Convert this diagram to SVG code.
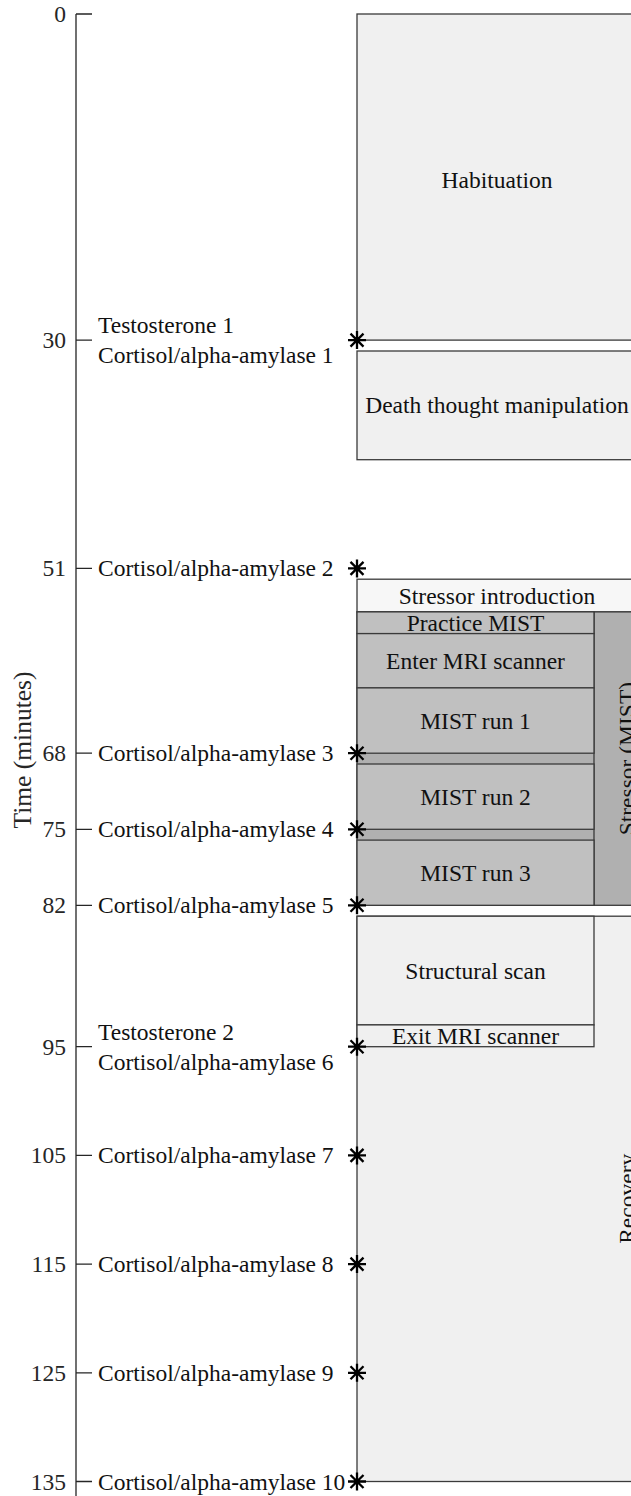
<svg xmlns="http://www.w3.org/2000/svg" width="631" height="1496" viewBox="0 0 631 1496">
<style>
text{font-family:"Liberation Serif","Times New Roman",serif;font-size:23.5px;fill:#111}
.tl{text-anchor:end;dominant-baseline:central;fill:#262626}
.lb{dominant-baseline:central}
.c{text-anchor:middle;dominant-baseline:central}
.box{stroke:#3a3a3a;stroke-width:1.3}
.light{fill:#f0f0f0}
.lighter{fill:#f7f7f7}
.mid{fill:#c0c0c0}
.dark{fill:#b0b0b0}
.tick{stroke:#262626;stroke-width:1.3;fill:none}
.ast{stroke:#000;stroke-width:2.3;fill:none}
</style>
<defs>
<path id="star" d="M-9,0H9M0,-9V9M-6.5,-6.5L6.5,6.5M-6.5,6.5L6.5,-6.5"/>
</defs>
<rect width="631" height="1496" fill="#fff"/>
<g id="axis">
<path class="tick" d="M76,14V1496M76,14H92M76,340.1H92M76,568.4H92M76,753.2H92M76,829.3H92M76,905.3H92M76,1046.7H92M76,1155.4H92M76,1264.1H92M76,1372.8H92M76,1481.5H92"/>
<text class="tl" x="66" y="14">0</text>
<text class="tl" x="66" y="340.1">30</text>
<text class="tl" x="66" y="568.4">51</text>
<text class="tl" x="66" y="753.2">68</text>
<text class="tl" x="66" y="829.3">75</text>
<text class="tl" x="66" y="905.3">82</text>
<text class="tl" x="66" y="1046.7">95</text>
<text class="tl" x="66" y="1155.4">105</text>
<text class="tl" x="66" y="1264.1">115</text>
<text class="tl" x="66" y="1372.8">125</text>
<text class="tl" x="66" y="1481.5">135</text>
<text x="31" y="750" transform="rotate(-90 31 750)" style="text-anchor:middle;font-size:25.5px;fill:#262626">Time (minutes)</text>
</g>
<g id="habituation">
<rect class="box light" x="357" y="14" width="290" height="326.1"/>
<text class="c" x="497" y="180">Habituation</text>
</g>
<g id="death-thought">
<rect class="box light" x="357" y="351" width="290" height="108.7"/>
<text class="c" x="497" y="405.4">Death thought manipulation</text>
</g>
<g id="stressor-introduction">
<rect class="box lighter" x="357" y="579.2" width="290" height="32.7"/>
<text class="c" x="497" y="595.5">Stressor introduction</text>
</g>
<g id="stressor-mist">
<rect class="box dark" x="357" y="611.9" width="290" height="293.4"/>
<line class="box" x1="594" y1="611.9" x2="594" y2="905.3"/>
<text x="635" y="758.6" transform="rotate(-90 635 758.6)" style="text-anchor:middle">Stressor (MIST)</text>
</g>
<g id="practice-mist">
<rect class="box mid" x="357" y="611.9" width="237" height="21.7"/>
<text class="c" x="475.5" y="622.8">Practice MIST</text>
</g>
<g id="enter-mri">
<rect class="box mid" x="357" y="633.6" width="237" height="54.3"/>
<text class="c" x="475.5" y="660.8">Enter MRI scanner</text>
</g>
<g id="mist-run-1">
<rect class="box mid" x="357" y="687.9" width="237" height="65.3"/>
<text class="c" x="475.5" y="720.5">MIST run 1</text>
</g>
<g id="mist-run-2">
<rect class="box mid" x="357" y="764" width="237" height="65.3"/>
<text class="c" x="475.5" y="796.6">MIST run 2</text>
</g>
<g id="mist-run-3">
<rect class="box mid" x="357" y="840.1" width="237" height="65.2"/>
<text class="c" x="475.5" y="872.7">MIST run 3</text>
</g>
<g id="recovery">
<rect class="box light" x="357" y="916.2" width="290" height="565.3"/>
<text x="635" y="1198.8" transform="rotate(-90 635 1198.8)" style="text-anchor:middle">Recovery</text>
</g>
<g id="structural-scan">
<rect class="box light" x="357" y="916.2" width="237" height="108.7"/>
<text class="c" x="475.5" y="970.5">Structural scan</text>
</g>
<g id="exit-mri">
<rect class="box light" x="357" y="1024.9" width="237" height="21.8"/>
<text class="c" x="475.5" y="1035.8">Exit MRI scanner</text>
</g>
<g id="samples">
<text class="lb" x="98" y="325.1">Testosterone 1</text>
<text class="lb" x="98" y="355.1">Cortisol/alpha-amylase 1</text>
<text class="lb" x="98" y="568.4">Cortisol/alpha-amylase 2</text>
<text class="lb" x="98" y="753.2">Cortisol/alpha-amylase 3</text>
<text class="lb" x="98" y="829.3">Cortisol/alpha-amylase 4</text>
<text class="lb" x="98" y="905.3">Cortisol/alpha-amylase 5</text>
<text class="lb" x="98" y="1031.7">Testosterone 2</text>
<text class="lb" x="98" y="1061.7">Cortisol/alpha-amylase 6</text>
<text class="lb" x="98" y="1155.4">Cortisol/alpha-amylase 7</text>
<text class="lb" x="98" y="1264.1">Cortisol/alpha-amylase 8</text>
<text class="lb" x="98" y="1372.8">Cortisol/alpha-amylase 9</text>
<text class="lb" x="98" y="1481.5">Cortisol/alpha-amylase 10</text>
<use href="#star" class="ast" x="357" y="340.1"/>
<use href="#star" class="ast" x="357" y="568.4"/>
<use href="#star" class="ast" x="357" y="753.2"/>
<use href="#star" class="ast" x="357" y="829.3"/>
<use href="#star" class="ast" x="357" y="905.3"/>
<use href="#star" class="ast" x="357" y="1046.7"/>
<use href="#star" class="ast" x="357" y="1155.4"/>
<use href="#star" class="ast" x="357" y="1264.1"/>
<use href="#star" class="ast" x="357" y="1372.8"/>
<use href="#star" class="ast" x="357" y="1481.5"/>
</g>
</svg>
